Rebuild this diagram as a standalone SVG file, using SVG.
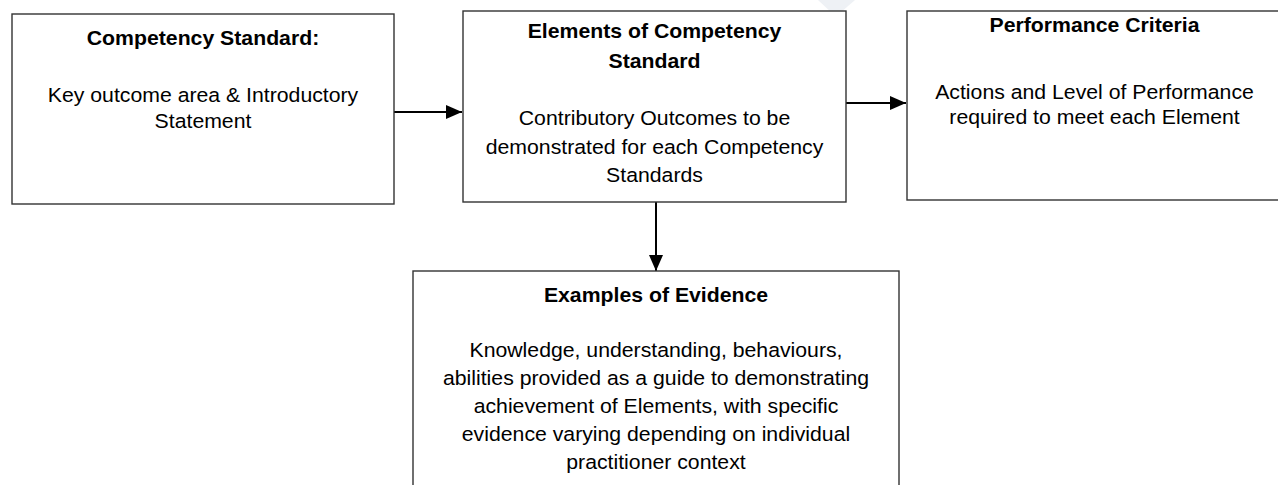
<svg xmlns="http://www.w3.org/2000/svg" width="1278" height="485" viewBox="0 0 1278 485">
<style>
.box{fill:#fff;stroke:#333;stroke-width:1.4}
.t{font-family:"Liberation Sans",Arial,sans-serif;font-size:19.5px;fill:#000;text-anchor:middle}
.b{font-weight:bold}
.c{stroke:#000;stroke-width:2;fill:none}
</style>
<defs>
<marker id="ah" viewBox="0 0 16 14" refX="16" refY="7" markerWidth="16" markerHeight="14" markerUnits="userSpaceOnUse" orient="auto">
<path d="M0,0 L16,7 L0,14 z" fill="#000"/>
</marker>
</defs>
<rect width="1278" height="485" fill="#fff"/>
<polygon points="818,0 855,0 840,13 832,13" fill="#eef1f5"/>
<g id="connectors">
<line class="c" x1="394" y1="112" x2="462" y2="112" marker-end="url(#ah)"/>
<line class="c" x1="846" y1="103" x2="906" y2="103" marker-end="url(#ah)"/>
<line class="c" x1="656" y1="202" x2="656" y2="271" marker-end="url(#ah)"/>
</g>
<g id="node-competency-standard">
<rect class="box" x="12" y="14" width="382" height="190"/>
<g transform="translate(203,0) scale(1.09,1)">
<text class="t b" x="0" y="45">Competency Standard:</text>
<text class="t" x="0" y="102">Key outcome area &amp; Introductory</text>
<text class="t" x="0" y="128">Statement</text>
</g>
</g>
<g id="node-elements">
<rect class="box" x="463" y="11" width="383" height="191"/>
<g transform="translate(654.5,0) scale(1.09,1)">
<text class="t b" x="0" y="38">Elements of Competency</text>
<text class="t b" x="0" y="68">Standard</text>
<text class="t" x="0" y="125">Contributory Outcomes to be</text>
<text class="t" x="0" y="154">demonstrated for each Competency</text>
<text class="t" x="0" y="182">Standards</text>
</g>
</g>
<g id="node-performance">
<rect class="box" x="907" y="11" width="380" height="189"/>
<g transform="translate(1094.5,0) scale(1.09,1)">
<text class="t b" x="0" y="32">Performance Criteria</text>
<text class="t" x="0" y="99">Actions and Level of Performance</text>
<text class="t" x="0" y="124">required to meet each Element</text>
</g>
</g>
<g id="node-evidence">
<rect class="box" x="413" y="271" width="486" height="230"/>
<g transform="translate(656,0) scale(1.09,1)">
<text class="t b" x="0" y="302">Examples of Evidence</text>
<text class="t" x="0" y="357">Knowledge, understanding, behaviours,</text>
<text class="t" x="0" y="385">abilities provided as a guide to demonstrating</text>
<text class="t" x="0" y="413">achievement of Elements, with specific</text>
<text class="t" x="0" y="441">evidence varying depending on individual</text>
<text class="t" x="0" y="469">practitioner context</text>
</g>
</g>
</svg>
